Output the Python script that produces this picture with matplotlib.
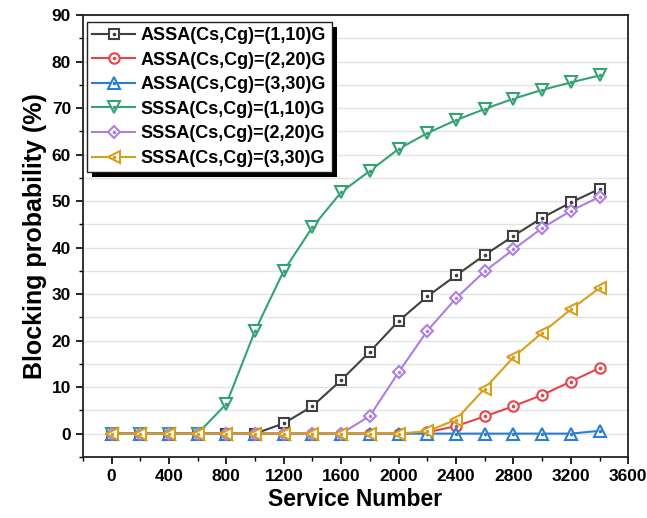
import matplotlib
matplotlib.use("Agg")
import matplotlib.pyplot as plt
from matplotlib.patches import Rectangle
from matplotlib.ticker import MultipleLocator

service = [0, 200, 400, 600, 800, 1000, 1200, 1400, 1600, 1800,
           2000, 2200, 2400, 2600, 2800, 3000, 3200, 3400]
assa_1_10 = [0, 0, 0, 0, 0, 0, 2.2, 5.9, 11.5, 17.6, 24.2, 29.5, 34.0, 38.4, 42.5, 46.4, 49.7, 52.6]
assa_2_20 = [0, 0, 0, 0, 0, 0, 0, 0, 0, 0, 0, 0.3, 1.6, 3.7, 5.9, 8.3, 11.2, 14.1]
assa_3_30 = [0, 0, 0, 0, 0, 0, 0, 0, 0, 0, 0, 0, 0, 0, 0, 0, 0, 0.6]
sssa_1_10 = [0, 0, 0, 0, 6.4, 22.1, 35.0, 44.4, 51.9, 56.5, 61.2, 64.6, 67.4, 69.8, 72.0, 73.9, 75.5, 77.0]
sssa_2_20 = [0, 0, 0, 0, 0, 0, 0, 0, 0, 3.8, 13.2, 22.1, 29.1, 34.9, 39.6, 44.2, 47.9, 50.9]
sssa_3_30 = [0, 0, 0, 0, 0, 0, 0, 0, 0, 0, 0, 0.5, 3.0, 9.7, 16.4, 21.7, 26.7, 31.3]

labels = ["ASSA(Cs,Cg)=(1,10)G", "ASSA(Cs,Cg)=(2,20)G", "ASSA(Cs,Cg)=(3,30)G",
          "SSSA(Cs,Cg)=(1,10)G", "SSSA(Cs,Cg)=(2,20)G", "SSSA(Cs,Cg)=(3,30)G"]
series = [assa_1_10, assa_2_20, assa_3_30, sssa_1_10, sssa_2_20, sssa_3_30]
colors = ["#404040", "#e5444a", "#2b7fd2", "#34a274", "#ad7fe2", "#d6a01c"]
markers = ["s", "o", "^", "v", "D", "<"]
msizes = [7, 7.5, 8, 8, 6.5, 8]

plt.rcParams['font.family'] = ['Liberation Sans', 'DejaVu Sans']
plt.rcParams['font.weight'] = 'bold'

fig = plt.figure(figsize=(6.47, 5.18), dpi=100)
ax = fig.add_axes([0.128, 0.118, 0.843, 0.853])

handles = []
for ys, c, m, ms, lab in zip(series, colors, markers, msizes, labels):
    l, = ax.plot(service, ys, color=c, marker=m, markersize=ms, markerfacecolor='white',
                 markeredgecolor=c, markeredgewidth=1.5, linewidth=1.5, label=lab)
    d, = ax.plot(service, ys, linestyle='none', marker='o', markersize=1.6, color=c)
    handles.append((l, d))

ax.set_xlim(-200, 3600)
ax.set_ylim(-5, 90)
ax.xaxis.set_major_locator(MultipleLocator(400))
ax.xaxis.set_minor_locator(MultipleLocator(200))
ax.yaxis.set_major_locator(MultipleLocator(10))
ax.yaxis.set_minor_locator(MultipleLocator(5))
ax.tick_params(which='major', direction='out', length=5, width=1.2, labelsize=12.5)
ax.tick_params(which='minor', direction='out', length=3, width=1)
ax.tick_params(top=False, right=False)
for lab in ax.get_xticklabels() + ax.get_yticklabels():
    lab.set_fontweight('bold')

ax.grid(True, which='both', axis='y', color='#e2e2e2', linewidth=1)
ax.set_axisbelow(True)
for s in ax.spines.values():
    s.set_linewidth(1.3)
    s.set_color('#222222')

ax.set_xlabel("Service Number", fontsize=16.5, fontweight='bold', labelpad=3)
ax.set_ylabel("Blocking probability (%)", fontsize=18, fontweight='bold', labelpad=3)

leg = ax.legend(handles, labels, loc='upper left', bbox_to_anchor=(0.007, 0.985),
                frameon=True, fancybox=False, edgecolor='#222222',
                handlelength=2.4, handletextpad=0.3, labelspacing=0.42,
                borderpad=0.3, borderaxespad=0.0, prop={'weight': 'bold', 'size': 13})
leg.get_frame().set_linewidth(1.0)
leg.get_frame().set_alpha(1)

fig.canvas.draw()
bb = leg.get_window_extent().transformed(fig.transFigure.inverted())
dx, dy = 5 / 647, 5 / 518
sh = Rectangle((bb.x0 + dx, bb.y0 - dy), bb.width, bb.height, transform=fig.transFigure,
               facecolor='black', edgecolor='none', zorder=4.9, clip_on=False)
ax.add_patch(sh)
leg.set_zorder(5)

fig.savefig("out.png", dpi=100)
